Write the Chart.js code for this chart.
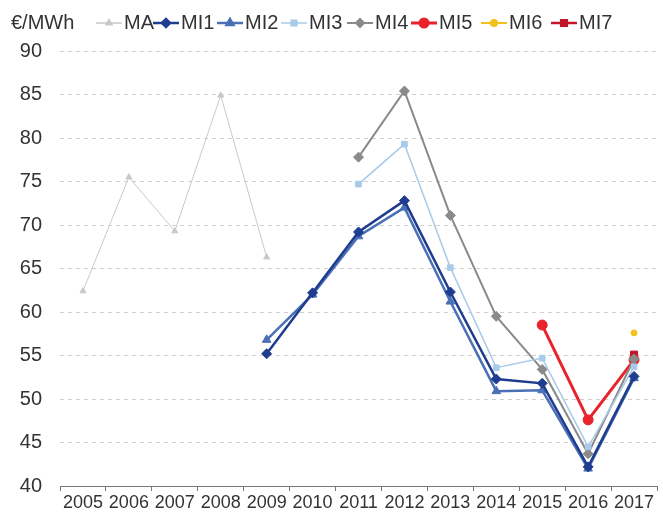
<!DOCTYPE html>
<html>
<head>
<meta charset="utf-8">
<script src="https://cdn.jsdelivr.net/npm/chart.js@4/dist/chart.umd.min.js"></script>
<style>
  html, body { margin: 0; padding: 0; background: #fff; }
  #wrap { width: 663px; height: 520px; position: relative; }
</style>
</head>
<body>
<div id="wrap"><canvas id="myChart"></canvas></div>
<script>
// --------------------
// Data
// --------------------
const years = ["2005", "2006", "2007", "2008", "2009", "2010", "2011", "2012", "2013", "2014", "2015", "2016", "2017"];

const ma  = [62.4, 75.5, 69.3, 84.9, 66.3, null, null, null, null, null, null, null, null];
const mi1 = [null, null, null, null, 55.2, 62.2, 69.2, 72.8, 62.3, 52.3, 51.8, 42.2, 52.6];
const mi2 = [null, null, null, null, 56.8, 62.0, 68.7, 72.0, 61.2, 50.9, 51.0, 42.0, 52.4];
const mi3 = [null, null, null, null, null, null, 74.7, 79.3, 65.1, 53.6, 54.7, 44.5, 53.7];
const mi4 = [null, null, null, null, null, null, 77.8, 85.4, 71.1, 59.5, 53.4, 43.7, 54.6];
const mi5 = [null, null, null, null, null, null, null, null, null, null, 58.5, 47.6, 54.5];
const mi6 = [null, null, null, null, null, null, null, null, null, null, null, null, 57.6];
const mi7 = [null, null, null, null, null, null, null, null, null, null, null, null, 55.1];

const yTicks = [40, 45, 50, 55, 60, 65, 70, 75, 80, 85, 90];
const unitLabel = "€/MWh";

const fontFamily = "'Liberation Sans', Arial, sans-serif";

// legend item x positions (line start)
const legendX = [96, 153, 217, 281, 347, 411, 481, 551];

function series(label, data, color, style, radius, width) {
  return {
    label: label,
    data: data,
    borderColor: color,
    backgroundColor: color,
    pointStyle: style,
    pointRadius: radius,
    pointHoverRadius: radius,
    borderWidth: width,
    pointBorderWidth: 1,
    tension: 0,
    spanGaps: false
  };
}

const datasets = [
  series("MA",  ma,  "#c9c9c9", "triangle", 3.5, 1),
  series("MI1", mi1, "#1f3c8e", "rectRot", 5, 2.5),
  series("MI2", mi2, "#4a70b6", "triangle", 5, 2.5),
  series("MI3", mi3, "#a8cbea", "rect", 4, 1.5),
  series("MI4", mi4, "#8a8a8a", "rectRot", 5, 2),
  series("MI5", mi5, "#e8232b", "circle", 5, 3),
  series("MI6", mi6, "#f2c21b", "circle", 3, 2),
  series("MI7", mi7, "#c0182a", "rect", 5, 2.5)
];

// --------------------
// Custom legend drawn on top
// --------------------
const topLegend = {
  id: "topLegend",
  afterDraw(chart) {
    const ctx = chart.ctx;
    const y = 23;
    ctx.save();
    ctx.font = "20px " + fontFamily;
    ctx.fillStyle = "#333";
    ctx.textBaseline = "middle";
    ctx.textAlign = "left";
    ctx.fillText(unitLabel, 11, y);
    chart.data.datasets.forEach((ds, i) => {
      const x0 = legendX[i];
      ctx.strokeStyle = ds.borderColor;
      ctx.lineWidth = Math.max(ds.borderWidth, 1.5);
      ctx.beginPath();
      ctx.moveTo(x0, y);
      ctx.lineTo(x0 + 26, y);
      ctx.stroke();
      ctx.fillStyle = ds.backgroundColor;
      Chart.helpers.drawPoint(ctx, {
        pointStyle: ds.pointStyle,
        radius: Math.min(ds.pointRadius, 4),
        rotation: 0,
        borderWidth: 1
      }, x0 + 13, y);
      ctx.fillStyle = "#333";
      ctx.fillText(ds.label, x0 + 28, y);
    });
    ctx.restore();
  }
};

const ctx = document.getElementById("myChart").getContext("2d");

new Chart(ctx, {
  type: "line",
  data: { labels: years, datasets: datasets },
  options: {
    responsive: true,
    maintainAspectRatio: false,
    animation: false,
    layout: { padding: { top: 51, right: 5, left: 0, bottom: 0 } },
    scales: {
      x: {
        offset: true,
        grid: {
          offset: true,
          drawOnChartArea: false,
          drawTicks: true,
          tickLength: 5,
          color: "#777"
        },
        border: { display: true, color: "#777", width: 1 },
        ticks: {
          color: "#333",
          font: { size: 18, family: fontFamily },
          padding: 1,
          maxRotation: 0,
          autoSkip: false
        },
        afterFit(scale) { scale.height = 34; }
      },
      y: {
        min: 40,
        max: 90,
        afterBuildTicks(scale) {
          scale.ticks = yTicks.map(v => ({ value: v }));
        },
        grid: {
          drawTicks: false,
          color: "#cfcfcf",
          lineWidth: 1
        },
        border: { display: false, dash: [4, 4] },
        ticks: {
          color: "#333",
          font: { size: 20, family: fontFamily },
          padding: 18
        },
        afterFit(scale) { scale.width = 60; }
      }
    },
    plugins: {
      legend: { display: false },
      tooltip: { enabled: false }
    }
  },
  plugins: [topLegend]
});
</script>
</body>
</html>
